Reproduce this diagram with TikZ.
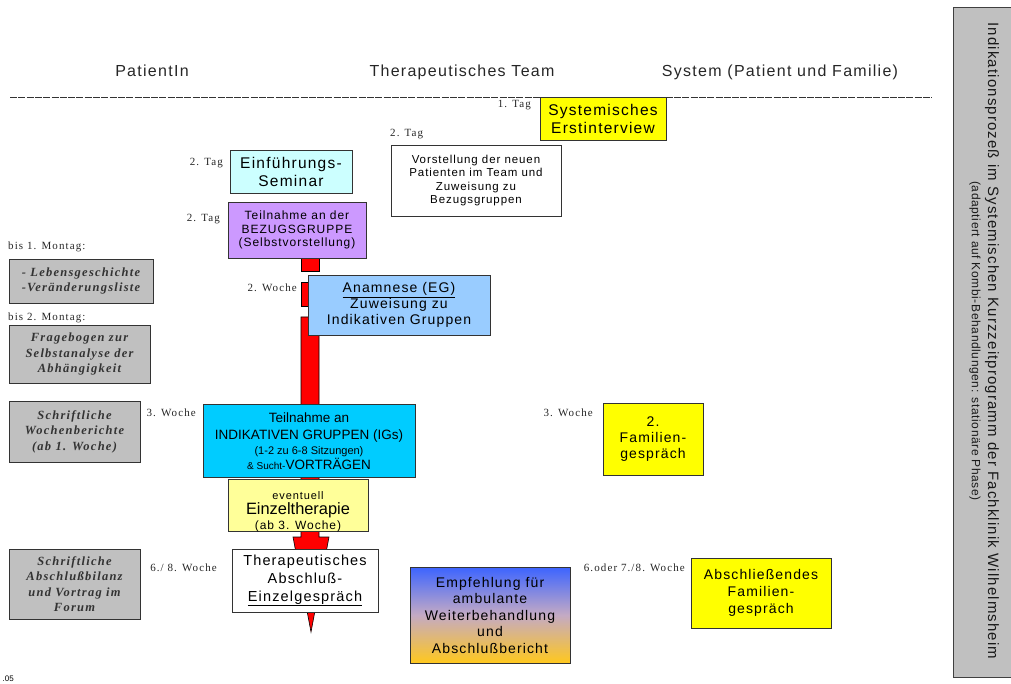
\documentclass[tikz,border=0pt]{standalone}
\usepackage{fontspec}
\setmainfont{Liberation Sans}
\newfontfamily\lsf[LetterSpace=8]{Liberation Sans}
\newfontfamily\nsf{Liberation Sans}
\newfontfamily\lrm[LetterSpace=10]{Liberation Serif}
\definecolor{grayc}{HTML}{C0C0C0}
\definecolor{yel}{HTML}{FFFF00}
\definecolor{ltcyan}{HTML}{CCFFFF}
\definecolor{purp}{HTML}{CC99FF}
\definecolor{ltblue}{HTML}{99CCFF}
\definecolor{cyanb}{HTML}{00CCFF}
\definecolor{ltyel}{HTML}{FFFF99}
\definecolor{gtop}{HTML}{3C64FF}
\definecolor{gmid}{HTML}{C4AAC4}
\definecolor{gbot}{HTML}{FFC81E}
\begin{document}
\begin{tikzpicture}[x=1pt,y=-1pt,
  box/.style={draw=black!80, line width=0.9pt, align=center, inner sep=0pt, text=black},
  lab/.style={font=\lrm\fontsize{11}{13}\selectfont, inner sep=0pt, text=black!85},
  gbox/.style={box, fill=grayc, text=black!80, font=\lrm\bfseries\itshape\fontsize{12.5}{15.5}\selectfont},
  head/.style={font=\lsf\fontsize{16}{18}\selectfont, inner sep=0pt, anchor=base, text=black!85},
  redpart/.style={fill=red, draw=black, line width=0.6pt}]
\useasboundingbox (0,0) rectangle (1011,684);

% headers
\node[head] (hpat) at (152,77) {PatientIn};
\node[head] (hther) at (462,77) {Therapeutisches Team};
\node[head] (hsys) at (780,77) {System (Patient und Familie)};
\draw[dash pattern=on 7pt off 1.3pt, line width=0.6pt, black!80] (10,97) -- (932,97);

% red arrow
\draw[redpart] (301,257) rectangle (319,271);
\draw[redpart] (301,282) rectangle (319,306);
\coordinate (tip) at (311,632);
\draw[redpart] (301,317) -- (319,317) -- (319,537) -- (329,537) -- (tip) -- (293,537) -- (301,537) -- cycle;

% boxes
\node[box, fill=yel, minimum width=126, minimum height=43, font=\lsf\fontsize{15.5}{18}\selectfont] (sysE) at (603,118.5) {Systemisches\\Erstinterview};
\node[box, fill=white, minimum width=170, minimum height=71, font=\lsf\fontsize{11.5}{13.3}\selectfont] (vorst) at (476,180.5) {Vorstellung der neuen\\Patienten im Team und\\Zuweisung zu\\Bezugsgruppen};
\node[box, fill=ltcyan, minimum width=122, minimum height=43, font=\lsf\fontsize{15.5}{18}\selectfont] (einf) at (291,171.5) {Einführungs-\\Seminar};
\node[box, fill=purp, minimum width=138, minimum height=56, font=\lsf\fontsize{12}{13.5}\selectfont] (bezug) at (297,230) {Teilnahme an der\\BEZUGSGRUPPE\\(Selbstvorstellung)};
\node[box, fill=ltblue, minimum width=182, minimum height=60, font=\lsf\fontsize{14}{16}\selectfont] (anam) at (399,305) {\underline{Anamnese (EG)}\\Zuweisung zu\\Indikativen Gruppen};
\node[box, fill=cyanb, minimum width=212, minimum height=73, font=\nsf\fontsize{13.5}{17}\selectfont] (ig) at (309,440.5) {\raisebox{0pt}[11pt][0pt]{Teilnahme an}\\INDIKATIVEN GRUPPEN (IGs)\\[-2pt]{\fontsize{11}{12}\selectfont(1-2 zu 6-8 Sitzungen)}\\[-1.5pt]{\fontsize{10}{12}\selectfont\&\ Sucht-}VORTRÄGEN};
\node[box, fill=ltyel, minimum width=140, minimum height=52] (einz) at (298,505) {};
\begin{scope}
\clip (228,479) rectangle (368,531);
\node[inner sep=0pt, align=center, anchor=north, font=\lsf\fontsize{11}{15.5}\selectfont] (einztext) at (298,491) {eventuell\\{\nsf\fontsize{16.4}{16}\selectfont Einzeltherapie}\\[-1pt]{\fontsize{12}{14}\selectfont(ab 3. Woche)}};
\end{scope}
\node[box, fill=yel, minimum width=100, minimum height=72, font=\lsf\fontsize{14}{16}\selectfont] (fam2) at (653,439) {2.\\Familien-\\gespräch};
\node[box, fill=white, minimum width=146, minimum height=63, font=\lsf\fontsize{14.5}{18}\selectfont] (abschl) at (305,580.5) {Therapeutisches\\Abschluß-\\\underline{Einzelgespräch}};
\node[box, top color=gtop, bottom color=gbot, middle color=gmid, minimum width=160, minimum height=96, font=\lsf\fontsize{14}{16.5}\selectfont] (empf) at (490,615) {Empfehlung für\\ambulante\\Weiterbehandlung\\und\\Abschlußbericht};
\node[box, fill=yel, minimum width=140, minimum height=70, font=\lsf\fontsize{14}{17}\selectfont] (famE) at (761,593) {Abschließendes\\Familien-\\gespräch};

% gray patient boxes
\node[gbox, minimum width=144, minimum height=44] (g1) at (81,281) {- Lebensgeschichte\\-Veränderungsliste};
\node[gbox, minimum width=141, minimum height=58] (g2) at (79.5,354) {Fragebogen zur\\Selbstanalyse der\\Abhängigkeit};
\node[gbox, minimum width=131, minimum height=61] (g3) at (74.5,431.5) {Schriftliche\\Wochenberichte\\(ab 1. Woche)};
\node[gbox, minimum width=131, minimum height=70] (g4) at (74.5,584) {Schriftliche\\Abschlußbilanz\\und Vortrag im\\Forum};

% labels
\node[lab, anchor=base east] (l1) at (531,108) {1. Tag};
\node[lab, anchor=base west] (l2) at (390,137) {2. Tag};
\node[lab, anchor=base east] (l3) at (223,166) {2. Tag};
\node[lab, anchor=base east] (l4) at (220,222) {2. Tag};
\node[lab, anchor=base west] (l5) at (8,250) {bis 1. Montag:};
\node[lab, anchor=base west] (l6) at (8,320) {bis 2. Montag:};
\node[lab, anchor=base east] (l7) at (297,292) {2. Woche};
\node[lab, anchor=base east] (l8) at (196,416) {3. Woche};
\node[lab, anchor=base east] (l9) at (593,416) {3. Woche};
\node[lab, anchor=base east] (l10) at (217,571) {6./ 8. Woche};
\node[lab, anchor=base east] (l11) at (685,571) {6.oder 7./8. Woche};
\node[inner sep=0pt, anchor=base east, font=\nsf\fontsize{8}{9}\selectfont] (l12) at (14,681) {.05};

% side title
\draw[fill=grayc, draw=black!75, line width=0.9pt] (953,7) rectangle (1014,677);
\node[inner sep=0pt, rotate=-90, font=\nsf\fontsize{15}{17}\addfontfeatures{LetterSpace=7.5}\selectfont, text=black!90] (title) at (992,341) {Indikationsprozeß im Systemischen Kurzzeitprogramm der Fachklinik Wilhelmsheim};
\node[inner sep=0pt, rotate=-90, font=\nsf\fontsize{12}{14}\addfontfeatures{LetterSpace=5}\selectfont, text=black!90] (subtitle) at (975,341) {(adaptiert auf Kombi-Behandlungen: stationäre Phase)};
\end{tikzpicture}
\end{document}
